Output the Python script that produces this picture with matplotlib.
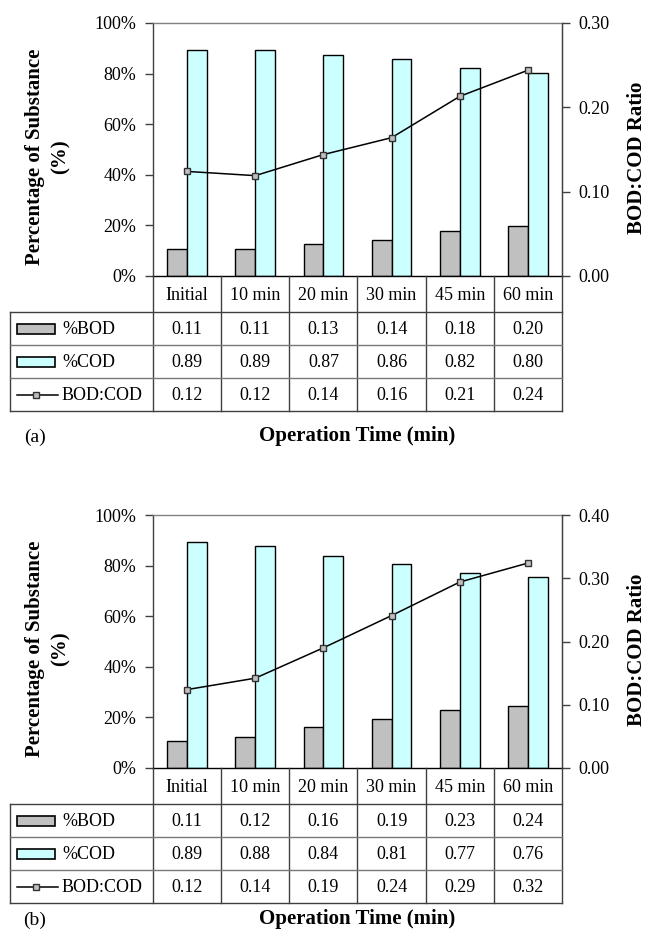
import numpy as np
import matplotlib
matplotlib.use('Agg')
import matplotlib.pyplot as plt
from matplotlib.patches import Rectangle

plt.rcParams['font.family'] = ['Liberation Serif', 'DejaVu Serif']

categories = ['Initial', '10 min', '20 min', '30 min', '45 min', '60 min']

bod_a = [0.108, 0.108, 0.127, 0.144, 0.176, 0.199]
cod_a = [0.892, 0.892, 0.873, 0.856, 0.824, 0.801]
ratio_a = [0.124, 0.119, 0.144, 0.164, 0.213, 0.244]

bod_b = [0.108, 0.124, 0.162, 0.192, 0.228, 0.244]
cod_b = [0.892, 0.876, 0.838, 0.808, 0.772, 0.756]
ratio_b = [0.124, 0.142, 0.190, 0.241, 0.294, 0.324]

ratio_max_a = 0.30
ratio_max_b = 0.40

row_labels = ['%BOD', '%COD', 'BOD:COD']
xlabel = 'Operation Time (min)'
ylabel_left = 'Percentage of Substance\n(%)'
ylabel_right = 'BOD:COD Ratio'
panel_letters = ['(a)', '(b)']

W, H = 648, 933
fig = plt.figure(figsize=(6.48, 9.33), dpi=100)


def fbox(x0, y0, x1, y1):
    return [x0 / W, 1 - y1 / H, (x1 - x0) / W, (y1 - y0) / H]


GRAY = '#C0C0C0'
CYAN = '#CCFFFF'
DARK = '#404040'
FS = 13


def panel(top, bod, cod, ratio, rmax, letter, label_y):
    px0, px1 = 153, 562
    ph = 253
    ax = fig.add_axes(fbox(px0, top, px1, top + ph))
    x = np.arange(len(categories))
    w = 0.29
    ax.bar(x - w / 2, bod, w, color=GRAY, edgecolor='black', linewidth=1.0, zorder=2)
    ax.bar(x + w / 2, cod, w, color=CYAN, edgecolor='black', linewidth=1.0, zorder=2)
    ax.set_xlim(-0.5, len(categories) - 0.5)
    ax.set_ylim(0, 1)
    yt = np.arange(0, 1.01, 0.2)
    ax.set_yticks(yt)
    ax.set_yticklabels([f'{int(round(v * 100))}%' for v in yt], fontsize=FS)
    ax.set_xticks([])
    ax.tick_params(axis='y', direction='out', length=6, width=1, pad=6, color=DARK)
    ax.spines['top'].set_color('#808080')
    ax.spines['left'].set_color(DARK)
    ax.spines['right'].set_color(DARK)
    ax.spines['bottom'].set_color('black')
    for s in ax.spines.values():
        s.set_linewidth(1.0)

    ax2 = ax.twinx()
    ax2.plot(x, ratio, color='black', lw=1.1, marker='s', ms=5,
             mfc=GRAY, mec='#333333', mew=1, zorder=3)
    ax2.set_ylim(0, rmax)
    rt = np.arange(0, rmax + 1e-9, 0.10)
    ax2.set_yticks(rt)
    ax2.set_yticklabels([f'{v:.2f}' for v in rt], fontsize=FS)
    ax2.tick_params(axis='y', direction='out', length=6, width=1, pad=6, color=DARK)
    ax2.spines['right'].set_color(DARK)
    ax2.spines['top'].set_visible(False)
    ax2.spines['left'].set_visible(False)
    ax2.spines['bottom'].set_visible(False)

    # table
    tl = 10
    tb = top + 388
    tab = fig.add_axes(fbox(tl, top + ph, px1, tb))
    cw = (px1 - px0) / len(categories)
    xl = -0.5 - (px0 - tl) / cw
    xr = len(categories) - 0.5
    tab.set_xlim(xl, xr)
    tab.set_ylim(135, 0)
    tab.axis('off')

    def px(p):
        return xl + (p - tl) / cw

    hh = 36
    rh = 33
    for b in np.arange(-0.5, len(categories), 1.0):
        tab.plot([b, b], [0, 135], color=DARK, lw=1.0, clip_on=False)
    tab.plot([xl, xl], [hh, 135], color=DARK, lw=1.0, clip_on=False)
    tab.plot([xl, xr], [hh, hh], color=DARK, lw=1.0, clip_on=False)
    tab.plot([xl, xr], [hh + rh, hh + rh], color='#777777', lw=1.0, clip_on=False)
    tab.plot([xl, xr], [hh + 2 * rh, hh + 2 * rh], color='#777777', lw=1.0, clip_on=False)
    tab.plot([xl, xr], [135, 135], color=DARK, lw=1.0, clip_on=False)

    for i, c in enumerate(categories):
        tab.text(i, hh / 2 + 1, c, ha='center', va='center', fontsize=FS)
    series = [bod, cod, ratio]
    for r, vals in enumerate(series):
        yc = hh + rh * r + rh / 2
        for i, v in enumerate(vals):
            tab.text(i, yc + 1, f'{v:.2f}', ha='center', va='center', fontsize=FS)
        if r < 2:
            col = GRAY if r == 0 else CYAN
            tab.add_patch(Rectangle((px(17), yc - 5), px(55) - px(17), 10,
                                    facecolor=col, edgecolor='black', lw=1.2))
        else:
            tab.plot([px(17), px(58)], [yc, yc], color='black', lw=1.1)
            tab.plot([px(36)], [yc], marker='s', ms=5, mfc=GRAY, mec='#333333', mew=1)
        tab.text(px(62), yc + 1, row_labels[r], ha='left', va='center', fontsize=FS)

    # labels
    fig.text(48 / W, 1 - (top + 134) / H, ylabel_left, rotation=90, ha='center',
             va='center', fontsize=15, fontweight='bold', multialignment='center',
             linespacing=1.4)
    fig.text(637 / W, 1 - (top + 135) / H, ylabel_right, rotation=90, ha='center',
             va='center', fontsize=15, fontweight='bold')
    fig.text(357 / W, 1 - label_y / H, xlabel, ha='center', va='center',
             fontsize=15, fontweight='bold')
    fig.text(35 / W, 1 - (label_y + 1) / H, letter, ha='center', va='center', fontsize=14)


panel(23, bod_a, cod_a, ratio_a, ratio_max_a, panel_letters[0], 436)
panel(515, bod_b, cod_b, ratio_b, ratio_max_b, panel_letters[1], 919)

fig.savefig('out.png', dpi=100)
